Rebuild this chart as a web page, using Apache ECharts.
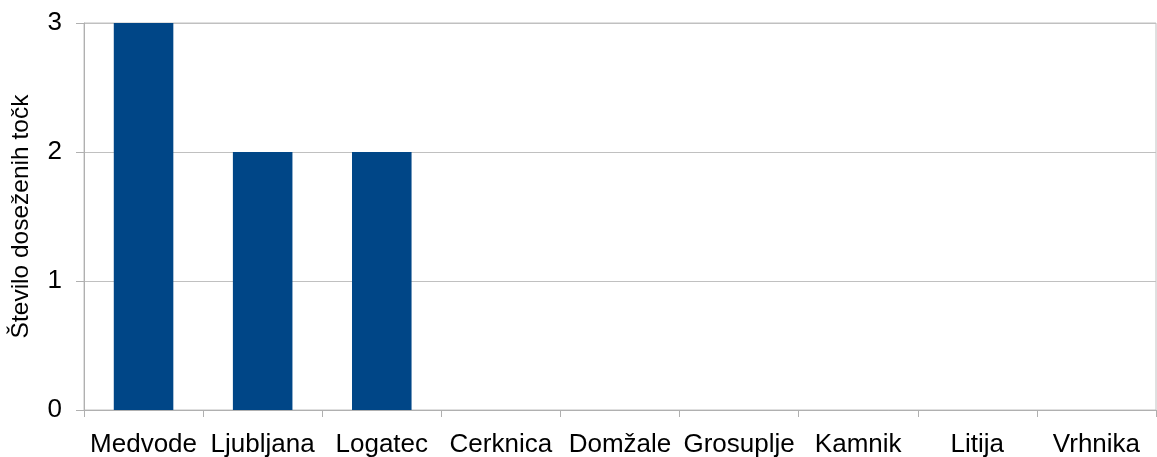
<!DOCTYPE html>
<html><head><meta charset="utf-8">
<script src="https://cdn.jsdelivr.net/npm/echarts@6/dist/echarts.min.js"></script>
<style>html,body{margin:0;padding:0;background:#fff}#c{width:1157px;height:457px}</style>
</head><body><div id="c"></div>
<script>
const categories = ["Medvode","Ljubljana","Logatec","Cerknica","Domžale","Grosuplje","Kamnik","Litija","Vrhnika"];
const points = [3,2,2,0,0,0,0,0,0];
const yTitle = "Število doseženih točk";

const chart = echarts.init(document.getElementById('c'), null, {renderer:'canvas'});
const font = "'Liberation Sans', Arial, sans-serif";
chart.setOption({
  animation:false,
  grid:{left:84,right:1,top:23,bottom:47,containLabel:false,outerBoundsMode:'none',show:true,borderColor:'#c0c0c0',borderWidth:1},
  xAxis:{type:'category',data:categories,
    axisLine:{lineStyle:{color:'#b0b0b0',width:1}},
    axisTick:{show:true,alignWithLabel:false,length:7,lineStyle:{color:'#b0b0b0'}},
    axisLabel:{color:'#000',fontSize:26,fontFamily:font,margin:22,interval:0}},
  yAxis:{type:'value',min:0,max:3,interval:1,
    name:yTitle,nameLocation:'middle',nameGap:50,
    nameTextStyle:{color:'#000',fontSize:24.5,fontFamily:font},
    axisLine:{show:true,lineStyle:{color:'#b0b0b0',width:1}},
    axisTick:{show:true,length:8,lineStyle:{color:'#b0b0b0'}},
    splitLine:{lineStyle:{color:'#c0c0c0',width:1}},
    axisLabel:{color:'#000',fontSize:26,fontFamily:font,margin:22}},
  series:[{type:'bar',data:points,barWidth:'50%',itemStyle:{color:'#004687'}}]
});
</script></body></html>
